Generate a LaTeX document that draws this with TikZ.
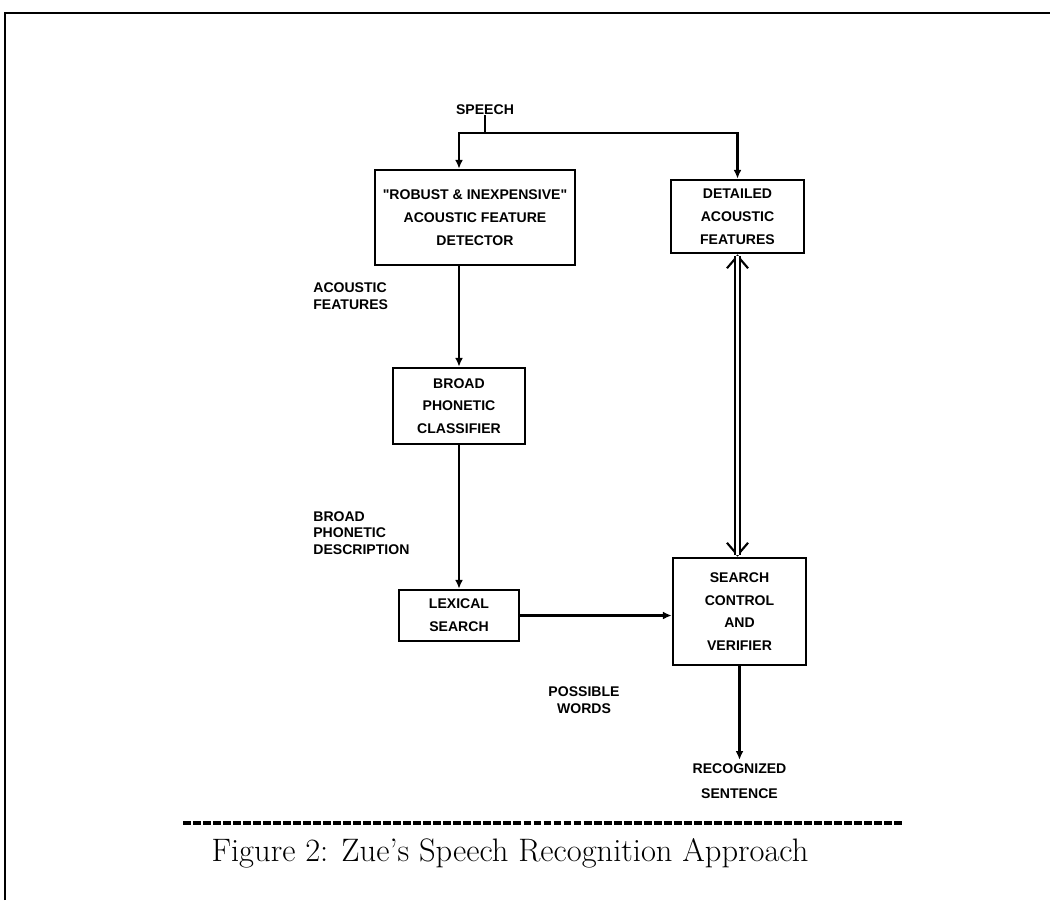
\documentclass[tikz,border=0pt]{standalone}
\usepackage{fontspec}
\newfontfamily\boxfont{Liberation Sans}
\usetikzlibrary{arrows.meta}
\begin{document}
\begin{tikzpicture}[x=0.02cm, y=0.02cm,
    box/.style={draw=black, line width=1.5pt, align=center, inner sep=0pt,
      font=\boxfont\bfseries\fontsize{8}{13}\selectfont},
    tag/.style={inner sep=0pt, font=\boxfont\bfseries\fontsize{8}{9.5}\selectfont},
    flow/.style={draw=black, line width=1.3pt, -{Latex[length=5pt,width=4.5pt]}}]
            \useasboundingbox (0,0) rectangle (1050,-900);
            \draw [black, line width=1.6pt] (5,-900) -- (5,-13) -- (1050,-13);
            \node [tag] (speech) at (485,-110) {SPEECH};
            \coordinate (split) at (485,-133);
            \node [box, minimum width=4cm, minimum height=1.9cm] (detector) at (475,-217.5) {"ROBUST \& INEXPENSIVE"\\ACOUSTIC FEATURE\\DETECTOR};
            \node [box, minimum width=2.66cm, minimum height=1.46cm] (detailed) at (737.5,-216.5) {DETAILED\\ACOUSTIC\\FEATURES};
            \node [box, minimum width=2.64cm, minimum height=1.52cm] (classifier) at (459,-406) {BROAD\\PHONETIC\\CLASSIFIER};
            \node [box, minimum width=2.4cm, minimum height=1.02cm] (lexical) at (459,-615.5) {LEXICAL\\SEARCH};
            \node [box, minimum width=2.66cm, minimum height=2.14cm] (verifier) at (739.5,-611.5) {SEARCH\\CONTROL\\AND\\VERIFIER};
            \node [tag, anchor=west, align=left] (acoustic) at (313,-296) {ACOUSTIC\\FEATURES};
            \node [tag, anchor=west, align=left] (description) at (313,-533) {BROAD\\PHONETIC\\DESCRIPTION};
            \node [tag, align=center] (words) at (584,-700) {POSSIBLE\\WORDS};
            \node [tag, align=center, font=\boxfont\bfseries\fontsize{8}{14}\selectfont] (sentence) at (739.5,-781) {RECOGNIZED\\SENTENCE};
            \draw [black, line width=1.2pt] (speech) -- (split);
            \draw [flow] (split) -| (detector.north -| classifier.north);
            \draw [flow] (split) -| (detailed.north);
            \draw [flow] (detector.south -| classifier.north) -- (classifier.north);
            \draw [flow] (classifier.south) -- (lexical.north);
            \draw [flow, line width=1.8pt] (lexical.east) -- (lexical.east -| verifier.west);
            \draw [flow, shorten >=2pt] (verifier.south) -- (sentence.north);
            \draw [black, line width=1.2pt, {Straight Barb[length=7pt,width=12pt]}-{Straight Barb[length=7pt,width=12pt]}] (detailed.south) -- (detailed.south |- verifier.north);
            \draw [black, double=white, double distance=1.7pt, line width=1.4pt, shorten <=1.2pt, shorten >=1.2pt] (detailed.south) -- (detailed.south |- verifier.north);
            \draw [black, line width=1.8pt, dash pattern=on 4.5pt off 1.2pt] (183,-823) -- (903,-823);
            \node [font=\fontsize{18.5}{22}\selectfont, inner sep=0pt] (caption) at (510,-853) {Figure 2: Zue's Speech Recognition Approach};
\end{tikzpicture}
\end{document}
